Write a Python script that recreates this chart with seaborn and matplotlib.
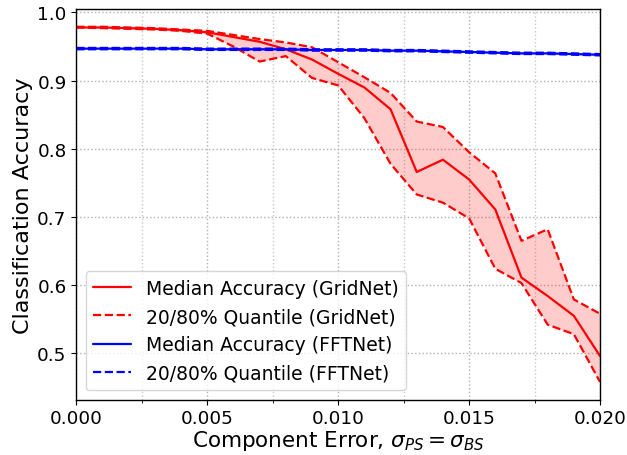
import numpy as np
import pandas as pd
import matplotlib
matplotlib.use("Agg")
import matplotlib.pyplot as plt
import seaborn as sns
from matplotlib.ticker import MultipleLocator, FormatStrFormatter

# Component error levels (sigma_PS = sigma_BS)
component_error = [0.000, 0.001, 0.002, 0.003, 0.004, 0.005, 0.006, 0.007, 0.008, 0.009, 0.010,
                   0.011, 0.012, 0.013, 0.014, 0.015, 0.016, 0.017, 0.018, 0.019, 0.020]

# GridNet accuracy statistics
gridnet_median = [0.978, 0.978, 0.977, 0.976, 0.974, 0.971, 0.964, 0.957, 0.946, 0.931, 0.910,
                  0.890, 0.858, 0.766, 0.784, 0.755, 0.711, 0.611, 0.584, 0.555, 0.496]
gridnet_q80 = [0.979, 0.979, 0.978, 0.977, 0.975, 0.973, 0.967, 0.961, 0.956, 0.949, 0.927,
               0.905, 0.882, 0.840, 0.832, 0.795, 0.764, 0.665, 0.682, 0.579, 0.558]
gridnet_q20 = [0.978, 0.977, 0.976, 0.975, 0.973, 0.969, 0.950, 0.928, 0.936, 0.904, 0.893,
               0.845, 0.778, 0.733, 0.721, 0.698, 0.624, 0.603, 0.542, 0.528, 0.458]

# FFTNet accuracy statistics
fftnet_median = [0.947, 0.947, 0.947, 0.947, 0.947, 0.946, 0.946, 0.946, 0.946, 0.945, 0.945,
                 0.945, 0.944, 0.944, 0.943, 0.942, 0.941, 0.940, 0.940, 0.939, 0.938]
fftnet_q80 = [0.948, 0.948, 0.948, 0.948, 0.948, 0.947, 0.947, 0.947, 0.947, 0.946, 0.946,
              0.946, 0.945, 0.945, 0.944, 0.943, 0.942, 0.941, 0.941, 0.940, 0.939]
fftnet_q20 = [0.946, 0.946, 0.946, 0.946, 0.946, 0.945, 0.945, 0.945, 0.945, 0.944, 0.944,
              0.944, 0.943, 0.943, 0.942, 0.941, 0.940, 0.939, 0.939, 0.938, 0.937]

df = pd.DataFrame({
    "err": component_error,
    "g_med": gridnet_median, "g_hi": gridnet_q80, "g_lo": gridnet_q20,
    "f_med": fftnet_median, "f_hi": fftnet_q80, "f_lo": fftnet_q20,
})

sns.set_style("ticks")
plt.rcParams.update({
    "font.family": ["DejaVu Sans"],
    "mathtext.fontset": "dejavusans",
    "text.color": "black",
    "axes.labelcolor": "black",
    "xtick.color": "black",
    "ytick.color": "black",
    "axes.edgecolor": "black",
})

fig = plt.figure(figsize=(6.27, 4.56), dpi=100)
ax = fig.add_axes([0.1217, 0.1213, 0.8353, 0.8567])

# GridNet
ax.fill_between(df["err"], df["g_lo"], df["g_hi"], color="red", alpha=0.2, linewidth=0)
sns.lineplot(data=df, x="err", y="g_med", ax=ax, color="red", lw=1.6,
             label="Median Accuracy (GridNet)")
sns.lineplot(data=df, x="err", y="g_hi", ax=ax, color="red", lw=1.6, linestyle="--",
             label="20/80% Quantile (GridNet)")
sns.lineplot(data=df, x="err", y="g_lo", ax=ax, color="red", lw=1.6, linestyle="--")

# FFTNet
ax.fill_between(df["err"], df["f_lo"], df["f_hi"], color="blue", alpha=0.2, linewidth=0)
sns.lineplot(data=df, x="err", y="f_med", ax=ax, color="blue", lw=1.6,
             label="Median Accuracy (FFTNet)")
sns.lineplot(data=df, x="err", y="f_hi", ax=ax, color="blue", lw=1.6, linestyle="--",
             label="20/80% Quantile (FFTNet)")
sns.lineplot(data=df, x="err", y="f_lo", ax=ax, color="blue", lw=1.6, linestyle="--")

ax.set_xlim(0, 0.020)
ax.margins(y=0.05)
ax.xaxis.set_major_locator(MultipleLocator(0.005))
ax.xaxis.set_minor_locator(MultipleLocator(0.0025))
ax.yaxis.set_major_locator(MultipleLocator(0.1))
ax.xaxis.set_major_formatter(FormatStrFormatter("%.3f"))
ax.yaxis.set_major_formatter(FormatStrFormatter("%.1f"))

ax.grid(True, which="major", linestyle=":", color="#b0b0b0", linewidth=1)
ax.grid(True, which="minor", axis="x", linestyle=":", color="#c8c8c8", linewidth=1)
ax.set_axisbelow(True)

for s in ax.spines.values():
    s.set_visible(True)
    s.set_color("black")
    s.set_linewidth(1.0)

ax.tick_params(axis="both", which="major", labelsize=13.2, length=3.5, width=0.8, color="black")
ax.tick_params(axis="x", which="minor", length=2.5, width=0.6)

ax.set_xlabel(r"Component Error, $\sigma_{PS} = \sigma_{BS}$", fontsize=15.5, labelpad=0.5)
ax.set_ylabel("Classification Accuracy", fontsize=16, labelpad=3)

ax.legend(loc="lower left", fontsize=13.5, frameon=True, framealpha=0.8,
          edgecolor="#cccccc", fancybox=True)

fig.savefig("out.png", dpi=100)
